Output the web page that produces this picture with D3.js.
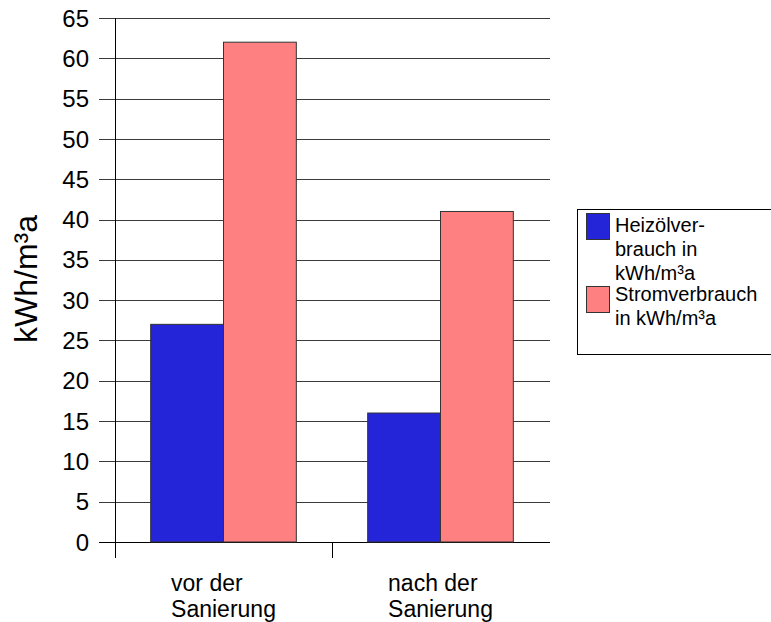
<!DOCTYPE html>
<html>
<head>
<meta charset="utf-8">
<script src="https://cdn.jsdelivr.net/npm/d3@7"></script>
<style>
  html, body { margin: 0; padding: 0; background: #fff; }
  svg { display: block; font-family: "Liberation Sans", Arial, sans-serif; }
</style>
</head>
<body>
<svg id="chart" width="771" height="622"></svg>
<script>
// Energy consumption before and after the renovation
const categories = [["vor der", "Sanierung"], ["nach der", "Sanierung"]];
const seriesNames = [["Heizölver-", "brauch in", "kWh/m³a"], ["Stromverbrauch", "in kWh/m³a"]];
const heizoel = [27, 16];
const strom = [62, 41];
const yTicks = [0, 5, 10, 15, 20, 25, 30, 35, 40, 45, 50, 55, 60, 65];
const colors = ["#2424d8", "#ff8080"];

const values = [heizoel, strom];
const svg = d3.select("#chart");

const plot = { left: 115, right: 549, top: 18, bottom: 542 };

const y = d3.scaleLinear().domain([0, 65]).range([plot.bottom, plot.top]);
const x0 = d3.scaleBand().domain(d3.range(categories.length)).range([plot.left, plot.right]).padding(0);
const x1 = d3.scaleBand().domain(d3.range(values.length)).range([0, x0.bandwidth()])
  .paddingInner(0).paddingOuter(0.49);

// horizontal grid lines with short ticks to the left of the axis
svg.append("g")
  .selectAll("line")
  .data(yTicks)
  .join("line")
  .attr("x1", plot.left - 16)
  .attr("x2", plot.right + 1)
  .attr("y1", d => Math.round(y(d)) + 0.5)
  .attr("y2", d => Math.round(y(d)) + 0.5)
  .attr("stroke", d => d === 0 ? "#000" : "#3a3a3a")
  .attr("stroke-width", 1);

// y tick labels
svg.append("g")
  .selectAll("text")
  .data(yTicks)
  .join("text")
  .attr("x", 89)
  .attr("y", d => y(d))
  .attr("dy", "0.36em")
  .attr("text-anchor", "end")
  .attr("font-size", 24)
  .attr("fill", "#000")
  .text(d => d);

// bars
const groups = svg.append("g")
  .selectAll("g")
  .data(categories.map((c, i) => i))
  .join("g")
  .attr("transform", i => `translate(${x0(i)},0)`);

groups.selectAll("rect")
  .data(i => values.map((s, k) => ({ k, v: s[i] })))
  .join("rect")
  .attr("x", d => x1(d.k))
  .attr("y", d => y(d.v))
  .attr("width", x1.bandwidth())
  .attr("height", d => y(0) - y(d.v))
  .attr("fill", d => colors[d.k])
  .attr("stroke", "#333")
  .attr("stroke-width", 1);

// y axis line
svg.append("line")
  .attr("x1", plot.left + 0.5).attr("x2", plot.left + 0.5)
  .attr("y1", plot.top).attr("y2", plot.bottom + 16)
  .attr("stroke", "#000").attr("stroke-width", 1);

// category separator ticks
svg.append("g")
  .selectAll("line")
  .data(d3.range(1, categories.length))
  .join("line")
  .attr("x1", i => Math.round(x0(i)) + 0.5)
  .attr("x2", i => Math.round(x0(i)) + 0.5)
  .attr("y1", plot.bottom)
  .attr("y2", plot.bottom + 16)
  .attr("stroke", "#000");

// category labels: lines left-aligned, block centred under each group
categories.forEach((lines, i) => {
  const t = svg.append("text")
    .attr("font-size", 23)
    .attr("fill", "#000");
  lines.forEach((ln, j) => {
    t.append("tspan").attr("y", 591 + j * 26).text(ln);
  });
  const w = d3.max(t.selectAll("tspan").nodes(), n => n.getComputedTextLength());
  t.selectAll("tspan").attr("x", x0(i) + x0.bandwidth() / 2 - w / 2);
});

// y axis title
svg.append("text")
  .attr("transform", "translate(37,279) rotate(-90)")
  .attr("text-anchor", "middle")
  .attr("font-size", 32)
  .attr("fill", "#000")
  .text("kWh/m³a");

// legend
const legend = svg.append("g");
legend.append("rect")
  .attr("x", 577.5).attr("y", 209.5)
  .attr("width", 220).attr("height", 145)
  .attr("fill", "#fff").attr("stroke", "#000");

const legendTop = [213, 286];
const legendBase = [232, 301];
seriesNames.forEach((lines, k) => {
  legend.append("rect")
    .attr("x", 586.5).attr("y", legendTop[k] + 0.5)
    .attr("width", 23).attr("height", 26)
    .attr("fill", colors[k]).attr("stroke", "#333");
  const t = legend.append("text").attr("font-size", 20).attr("fill", "#000");
  lines.forEach((ln, j) => {
    t.append("tspan").attr("x", 615).attr("y", legendBase[k] + j * 24).text(ln);
  });
});
</script>
</body>
</html>
